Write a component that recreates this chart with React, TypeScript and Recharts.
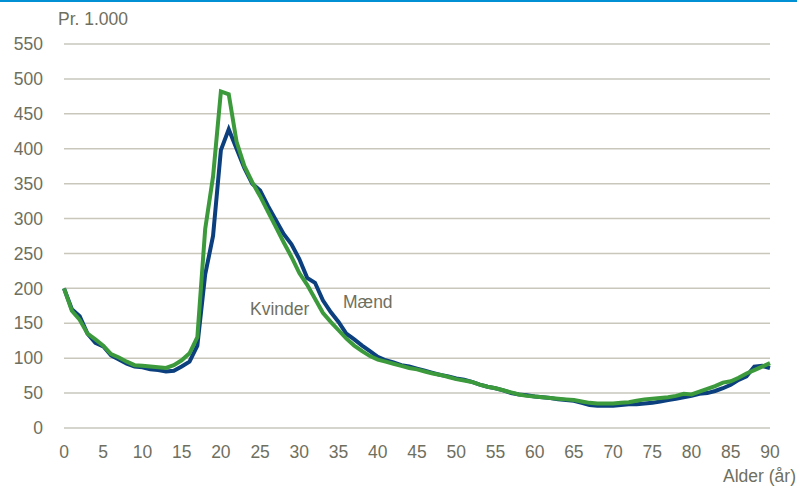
import { LineChart, Line, XAxis, YAxis, CartesianGrid } from 'recharts';

const ages = Array.from({ length: 91 }, (_, i) => i);

const kvinder = [200, 168, 155, 135, 127, 118, 106, 101, 95, 90, 89, 88, 87, 86, 90, 97, 107, 130, 285, 360, 482, 478, 410, 375, 352, 332, 310, 288, 266, 245, 222, 205, 185, 165, 152, 140, 128, 118, 110, 103, 98, 95, 92, 89, 86, 84, 81, 78, 76, 73, 70, 68, 66, 62, 59, 57, 54, 51, 48, 46, 45, 44, 43, 42, 41, 40, 38, 36, 35, 35, 35, 36, 37, 39, 41, 42, 43, 44, 46, 49, 48, 52, 56, 60, 65, 67, 72, 78, 83, 88, 93];

const maend = [200, 170, 160, 135, 122, 117, 104, 98, 92, 88, 87, 84, 83, 81, 82, 88, 95, 118, 220, 275, 398, 428, 400, 372, 350, 340, 318, 298, 278, 263, 242, 215, 208, 183, 166, 152, 135, 127, 118, 110, 102, 97, 94, 90, 88, 85, 82, 79, 76, 74, 71, 69, 66, 62, 59, 57, 54, 50, 48, 47, 45, 44, 43, 41, 40, 39, 36, 33, 32, 32, 32, 33, 34, 34, 35, 36, 38, 40, 42, 44, 46, 49, 50, 53, 57, 62, 69, 74, 88, 89, 86];

const xTicks = [0, 5, 10, 15, 20, 25, 30, 35, 40, 45, 50, 55, 60, 65, 70, 75, 80, 85, 90];
const yTicks = [0, 50, 100, 150, 200, 250, 300, 350, 400, 450, 500, 550];

const data = ages.map((a, i) => ({ age: a, kvinder: kvinder[i], maend: maend[i] }));

const font = '"Liberation Sans", Arial, sans-serif';
const txt = '#6f6f60';
const tick = { fill: txt, fontSize: 17.5, fontFamily: font };

export default function App() {
  return (
    <div style={{ position: 'absolute', left: 0, top: 0, width: 797, height: 486, background: '#fff', fontFamily: font }}>
      <div style={{ position: 'absolute', left: 0, top: 0, width: 797, height: 2, background: '#0090d3' }} />
      <LineChart width={797} height={486} data={data} margin={{ top: 44, right: 27, left: 0, bottom: 28 }}>
        <CartesianGrid vertical={false} stroke="#c9c7bc" strokeWidth={1.5} />
        <XAxis dataKey="age" type="number" domain={[0, 90]} ticks={xTicks} height={30} axisLine={false} tickLine={false} tickSize={0} tickMargin={18} tick={tick} interval={0} />
        <YAxis domain={[0, 550]} ticks={yTicks} width={64} axisLine={false} tickLine={false} tickSize={0} tickMargin={21} tick={tick} interval={0} />
        <Line dataKey="maend" stroke="#0b3f7e" strokeWidth={4} dot={false} isAnimationActive={false} />
        <Line dataKey="kvinder" stroke="#3c9a3c" strokeWidth={4} dot={false} isAnimationActive={false} />
      </LineChart>
      <div style={{ position: 'absolute', left: 58, top: 9, fontSize: 17.5, color: txt }}>Pr. 1.000</div>
      <div style={{ position: 'absolute', right: 1, top: 466, fontSize: 17.5, color: txt }}>Alder (år)</div>
      <div style={{ position: 'absolute', left: 250, top: 299, fontSize: 17.5, color: txt }}>Kvinder</div>
      <div style={{ position: 'absolute', left: 343, top: 292, fontSize: 17.5, color: txt }}>Mænd</div>
    </div>
  );
}
